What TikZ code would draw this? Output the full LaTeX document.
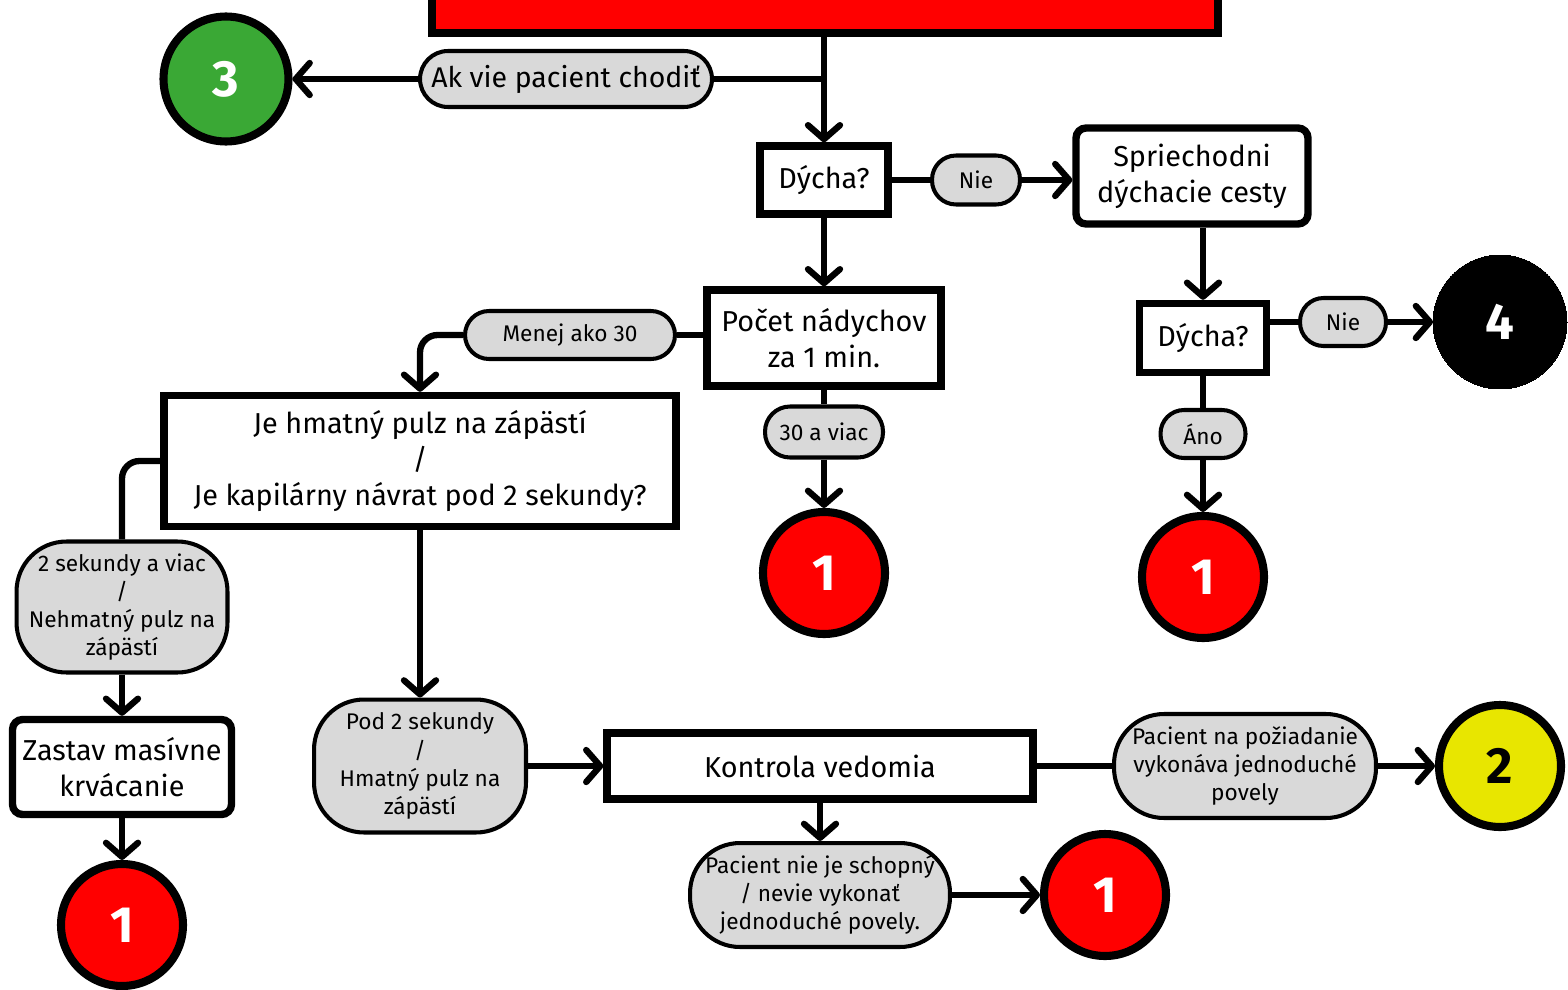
\documentclass[tikz,border=0pt]{standalone}
\usepackage{fontspec}
\setmainfont{Fira Sans}
\usepackage{xcolor}
\usetikzlibrary{positioning,calc,arrows.meta}

\definecolor{alarmred}{HTML}{FF0000}
\definecolor{walkgreen}{HTML}{3AA835}
\definecolor{delayyellow}{HTML}{E8E600}
\definecolor{pillgrey}{HTML}{D9D9D9}

\begin{document}
\begin{tikzpicture}[
	x=0.02cm, y=-0.02cm,
	font=\fontsize{16.4}{20.5}\selectfont,
	% obdlzniky s otazkou
	qbox/.style={draw, line width=4.2pt, fill=white, align=center, inner sep=2pt},
	% sive ovaly s odpovedou
	pill/.style={draw, line width=2.3pt, fill=pillgrey, align=center, inner sep=1pt,
		font=\fontsize{12.9}{16}\selectfont},
	% farebne kruhy s kategoriou
	triage/.style={circle, draw, line width=4.6pt, minimum size=2.44cm, inner sep=0pt,
		text=white, font=\bfseries\fontsize{29}{29}\selectfont},
	flow/.style={line width=3.6pt, -{Straight Barb[length=2.8mm,width=6.4mm,round]}},
	link/.style={line width=3.6pt}
	]
	% --- RAM ---
	\useasboundingbox (0,0) rectangle (1568,990);
	\clip (0,0) rectangle (1568,990);
	\fill[white] (0,0) rectangle (1568,990);
	
	% --- UZLY ---
	\node[qbox, fill=alarmred, minimum width=15.72cm, minimum height=1.8cm] (alarm) at (825,-12) {};
	\node[pill, font=\fontsize{16.2}{19}\selectfont, rounded corners=0.56cm,
		minimum width=5.84cm, minimum height=1.12cm] (walk) at (566,79) {Ak vie pacient chodiť};
	\node[triage, fill=walkgreen, minimum size=2.5cm] (green) at (226,79) {3};
	
	\node[qbox, minimum width=2.56cm, minimum height=1.36cm] (breathA) at (824,180) {Dýcha?};
	\node[pill, rounded corners=0.48cm, minimum width=1.76cm, minimum height=0.98cm] (noA) at (976,180) {Nie};
	\node[qbox, rounded corners=0.2cm, minimum width=4.64cm, minimum height=1.92cm] (airway) at (1192,176) {Spriechodni\\dýchacie cesty};
	\node[qbox, minimum width=2.54cm, minimum height=1.38cm] (breathB) at (1203,338) {Dýcha?};
	\node[pill, rounded corners=0.47cm, minimum width=1.72cm, minimum height=0.96cm] (noB) at (1343,322) {Nie};
	\node[triage, fill=black, minimum size=2.68cm, line width=0pt] (black) at (1500,322) {4};
	\node[pill, rounded corners=0.47cm, minimum width=1.7cm, minimum height=0.96cm] (yesB) at (1203,434) {Áno};
	\node[triage, fill=alarmred] (redA) at (1203,577) {1};
	
	\node[qbox, minimum width=4.68cm, minimum height=1.92cm] (count) at (824,338) {Počet nádychov\\za 1 min.};
	\node[pill, rounded corners=0.48cm, minimum width=4.2cm, minimum height=0.96cm] (less) at (570,335) {Menej ako 30};
	\node[pill, rounded corners=0.5cm, minimum width=2.36cm, minimum height=1.02cm] (more) at (824,432) {30 a viac};
	\node[triage, fill=alarmred] (redB) at (824,573) {1};
	
	\node[qbox, minimum width=10.24cm, minimum height=2.62cm] (pulse) at (420,461) {Je hmatný pulz na zápästí\\/\\Je kapilárny návrat pod 2 sekundy?};
	\node[pill, rounded corners=1cm, minimum width=4.22cm, minimum height=2.62cm] (slow) at (122,607) {2 sekundy a viac\\/\\Nehmatný pulz na\\zápästí};
	\node[qbox, rounded corners=0.2cm, minimum width=4.38cm, minimum height=1.9cm] (bleed) at (122,767) {Zastav masívne\\krvácanie};
	\node[triage, fill=alarmred] (redC) at (122,925) {1};
	\node[pill, rounded corners=1cm, minimum width=4.24cm, minimum height=2.66cm] (fast) at (420,766) {Pod 2 sekundy\\/\\Hmatný pulz na\\zápästí};
	
	\node[qbox, minimum width=8.52cm, minimum height=1.32cm] (aware) at (820,766) {Kontrola vedomia};
	\node[pill, rounded corners=1cm, minimum width=5.24cm, minimum height=2.08cm] (obey) at (1245,766) {Pacient na požiadanie\\vykonáva jednoduché\\povely};
	\node[triage, fill=delayyellow, text=black] (yellow) at (1500,766) {2};
	\node[pill, rounded corners=1cm, minimum width=5.2cm, minimum height=2.08cm] (noobey) at (820,895) {Pacient nie je schopný\\/ nevie vykonať\\jednoduché povely.};
	\node[triage, fill=alarmred] (redD) at (1105,895) {1};
	
	% --- SPOJNICE ---
	\draw[flow] (alarm.south -| breathA.north) -- (breathA.north);
	\draw[link] (walk.east) -- (walk.east -| breathA.north);
	\draw[flow] (walk.west) -- (green.east);
	\draw[flow] (breathA.south) -- (count.north);
	\draw[link] (breathA.east) -- (noA.west);
	\draw[flow] (noA.east) -- (noA.east -| airway.west);
	\draw[flow] (airway.south -| breathB.north) -- (breathB.north);
	\draw[link] (noB.west -| breathB.east) -- (noB.west);
	\draw[flow] (noB.east) -- (black.west);
	\draw[link] (breathB.south) -- (yesB.north);
	\draw[flow] (yesB.south) -- (redA.north);
	\draw[link] (count.west |- less.east) -- (less.east);
	\draw[flow, rounded corners=0.35cm] (less.west) -| (pulse.north);
	\draw[link] (count.south) -- (more.north);
	\draw[flow] (more.south) -- (redB.north);
	\draw[link, rounded corners=0.35cm] (pulse.west) -| (slow.north);
	\draw[flow] (slow.south) -- (bleed.north);
	\draw[flow] (bleed.south) -- (redC.north);
	\draw[flow] (pulse.south) -- (fast.north);
	\draw[flow] (fast.east) -- (aware.west);
	\draw[link] (aware.east) -- (obey.west);
	\draw[flow] (obey.east) -- (yellow.west);
	\draw[flow] (aware.south) -- (noobey.north);
	\draw[flow] (noobey.east) -- (redD.west);
\end{tikzpicture}
\end{document}
